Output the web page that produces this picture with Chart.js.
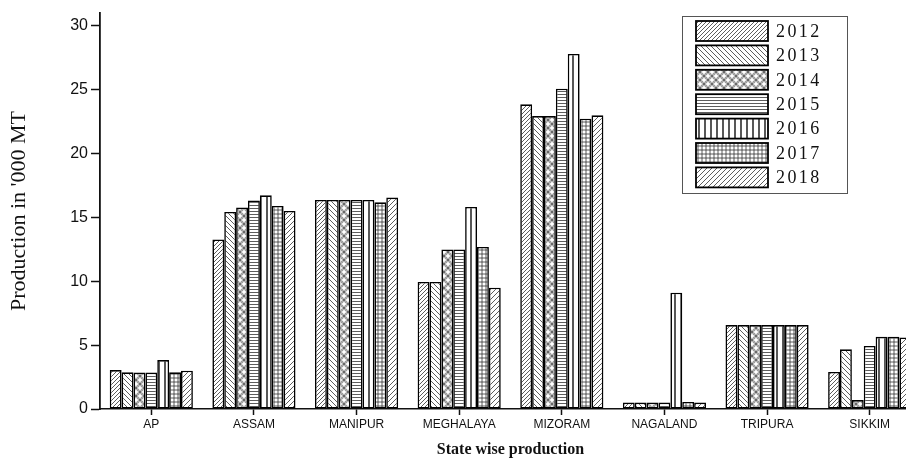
<!DOCTYPE html>
<html>
<head>
<meta charset="utf-8">
<script src="https://cdn.jsdelivr.net/npm/chart.js@4.4.1/dist/chart.umd.min.js"></script>
<style>
  html, body { margin: 0; padding: 0; background: #fff; overflow: hidden; }
  #chart { display: block; }
</style>
</head>
<body>
<canvas id="chart" width="922" height="461"></canvas>
<script>
// state wise production in '000 MT
const states = ["AP", "ASSAM", "MANIPUR", "MEGHALAYA", "MIZORAM", "NAGALAND", "TRIPURA", "SIKKIM"];
const years = ["2012", "2013", "2014", "2015", "2016", "2017", "2018"];

const prod2012 = [3.05, 13.27, 16.36, 9.95, 23.85, 0.5, 6.57, 2.9];
const prod2013 = [2.87, 15.43, 16.36, 9.95, 22.93, 0.5, 6.57, 4.67];
const prod2014 = [2.85, 15.77, 16.36, 12.49, 22.93, 0.5, 6.57, 0.7];
const prod2015 = [2.85, 16.32, 16.36, 12.49, 25.07, 0.5, 6.57, 4.93];
const prod2016 = [3.83, 16.73, 16.36, 15.82, 27.8, 9.1, 6.57, 5.65];
const prod2017 = [2.87, 15.9, 16.18, 12.69, 22.73, 0.55, 6.57, 5.65];
const prod2018 = [3.0, 15.5, 16.55, 9.5, 22.99, 0.5, 6.57, 5.6];

const yTicks = [0, 5, 10, 15, 20, 25, 30];

let ctx = document.getElementById("chart").getContext("2d");

function makePattern(size, draw) {
    let c = document.createElement("canvas");
    c.width = size;
    c.height = size;
    let p = c.getContext("2d");
    p.fillStyle = "#fff";
    p.fillRect(0, 0, size, size);
    p.strokeStyle = "#333";
    p.lineWidth = 0.8;
    draw(p, size);
    return ctx.createPattern(c, "repeat");
}

function diagUp(p, s) {
    p.beginPath();
    for (let k = -s; k <= 2 * s; k += s / 2) {
        p.moveTo(k - s, s);
        p.lineTo(k, 0);
    }
    p.stroke();
}

function diagDown(p, s) {
    p.beginPath();
    for (let k = -s; k <= 2 * s; k += s / 2) {
        p.moveTo(k, 0);
        p.lineTo(k + s, s);
    }
    p.stroke();
}

let patterns = [
    makePattern(8, diagUp),
    makePattern(10, diagDown),
    makePattern(8, function (p, s) {
        p.strokeStyle = "#555";
        p.lineWidth = 0.7;
        let centers = [[4, 4], [0, 0], [8, 0], [0, 8], [8, 8]];
        centers.forEach(function (pt) {
            p.beginPath();
            p.arc(pt[0], pt[1], 3.6, 0, Math.PI * 2);
            p.stroke();
        });
    }),
    makePattern(3, function (p, s) {
        p.beginPath();
        p.moveTo(0, 1.5); p.lineTo(s, 1.5);
        p.stroke();
    }),
    makePattern(6, function (p, s) {
        p.lineWidth = 1.4;
        p.strokeStyle = "#111";
        p.beginPath();
        p.moveTo(3, 0); p.lineTo(3, s);
        p.stroke();
    }),
    makePattern(4, function (p, s) {
        p.beginPath();
        p.moveTo(2, 0); p.lineTo(2, s);
        p.moveTo(0, 2); p.lineTo(s, 2);
        p.stroke();
    }),
    makePattern(10, diagUp)
];

let series = [prod2012, prod2013, prod2014, prod2015, prod2016, prod2017, prod2018];

let datasets = series.map(function (values, i) {
    return {
        label: years[i],
        data: values,
        backgroundColor: patterns[i],
        borderColor: "#000",
        borderWidth: 1.6,
        borderSkipped: false,
        categoryPercentage: 0.81,
        barPercentage: 1.0
    };
});

// legend box drawn inside the plot, top right
const boxLegend = {
    id: "boxLegend",
    afterDraw: function (chart) {
        let c = chart.ctx;
        c.save();
        c.strokeStyle = "#555";
        c.lineWidth = 1;
        c.strokeRect(682.5, 16.5, 165, 177);
        c.font = "18px 'Liberation Serif'";
        c.letterSpacing = "2.4px";
        c.textBaseline = "middle";
        chart.data.datasets.forEach(function (ds, i) {
            let y = 21 + i * 24.4;
            c.fillStyle = ds.backgroundColor;
            c.fillRect(696, y, 72, 20);
            c.strokeStyle = "#000";
            c.lineWidth = 1.8;
            c.strokeRect(696, y, 72, 20);
            c.fillStyle = "#111";
            c.fillText(ds.label, 776, y + 11);
        });
        c.restore();
    }
};

new Chart(ctx, {
    type: "bar",
    data: { labels: states, datasets: datasets },
    plugins: [boxLegend],
    options: {
        responsive: false,
        animation: false,
        layout: { padding: { top: 13, right: 1, left: 0, bottom: 0 } },
        plugins: {
            legend: { display: false },
            tooltip: { enabled: false }
        },
        scales: {
            x: {
                grid: {
                    drawOnChartArea: false,
                    offset: false,
                    tickLength: 6,
                    tickWidth: 1.5,
                    tickColor: "#111"
                },
                border: { display: true, color: "#111", width: 1.5 },
                ticks: {
                    color: "#111",
                    padding: 2,
                    maxRotation: 0,
                    autoSkip: false,
                    font: { family: "'Liberation Sans'", size: 12 }
                },
                title: {
                    display: true,
                    text: "State wise production",
                    color: "#111",
                    padding: { top: 4, bottom: 2 },
                    font: { family: "'Liberation Serif'", size: 16, weight: "bold" }
                },
                afterFit: function (scale) { scale.height = 52; }
            },
            y: {
                min: 0,
                max: 31,
                afterBuildTicks: function (scale) {
                    scale.ticks = yTicks.map(function (v) { return { value: v }; });
                },
                grid: {
                    drawOnChartArea: false,
                    tickLength: 9,
                    tickWidth: 1.5,
                    tickColor: "#111"
                },
                border: { display: true, color: "#111", width: 1.8 },
                ticks: {
                    color: "#111",
                    padding: 3,
                    font: { family: "'Liberation Sans'", size: 16 }
                },
                title: {
                    display: true,
                    text: "Production in '000 MT",
                    color: "#111",
                    padding: { top: 6, bottom: 2 },
                    font: { family: "'Liberation Serif'", size: 22 }
                },
                afterFit: function (scale) { scale.width = 100; }
            }
        }
    }
});
</script>
</body>
</html>
